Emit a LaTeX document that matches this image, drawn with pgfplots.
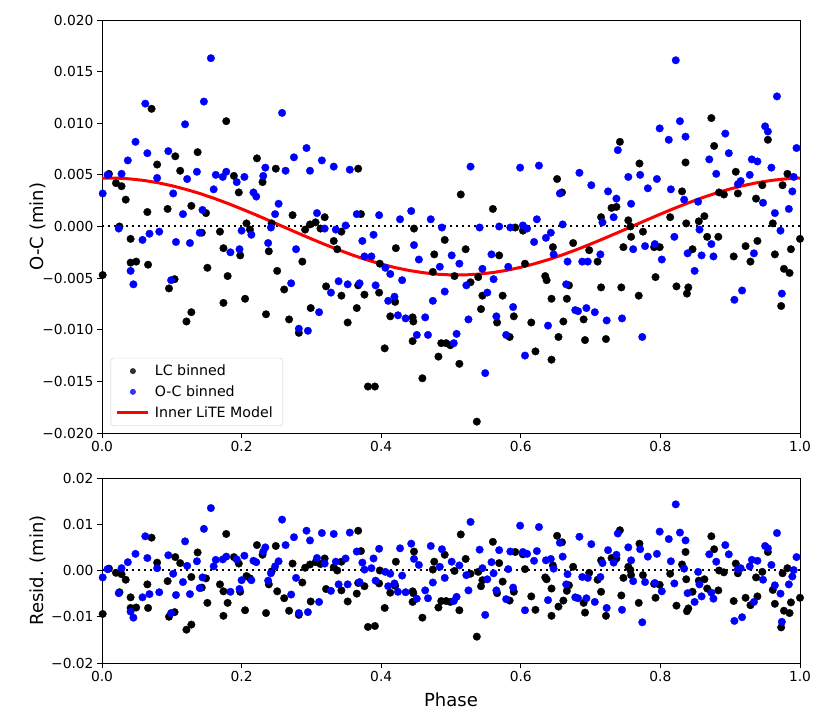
\documentclass[border=0pt]{standalone}
\usepackage{fontspec}
\setmainfont{DejaVu Sans}
\usepackage{pgfplots}
\usepackage{pgfplotstable}
\pgfplotsset{compat=1.18}

% columns: phase, O-C (min), residual after the model (min)
\pgfplotstableread{
x oc res
0.071 0.0114 0.0071
0.178 0.0102 0.0079
0.137 0.0072 0.0039
0.105 0.0068 0.0029
0.079 0.0060 0.0017
0.112 0.0054 0.0016
0.010 0.0051 0.0004
0.020 0.0042 -0.0005
0.028 0.0039 -0.0008
0.034 0.0026 -0.0020
0.065 0.0014 -0.0030
0.094 0.0017 -0.0023
0.128 0.0020 -0.0014
0.149 0.0013 -0.0017
0.189 0.0049 0.0029
0.196 0.0033 0.0015
0.222 0.0066 0.0055
0.230 0.0043 0.0034
0.249 0.0056 0.0053
0.207 0.0003 -0.0012
0.212 -0.0003 -0.0017
0.243 0.0003 -0.0002
0.025 0.0000 -0.0047
0.143 -0.0006 -0.0037
0.169 -0.0005 -0.0030
0.041 -0.0012 -0.0058
0.041 -0.0035 -0.0081
0.049 -0.0034 -0.0080
0.066 -0.0037 -0.0081
0.001 -0.0047 -0.0094
0.104 -0.0051 -0.0090
0.096 -0.0060 -0.0100
0.128 -0.0083 -0.0117
0.121 -0.0092 -0.0128
0.151 -0.0040 -0.0070
0.174 -0.0021 -0.0045
0.180 -0.0048 -0.0070
0.174 -0.0074 -0.0098
0.198 -0.0028 -0.0046
0.205 -0.0070 -0.0086
0.239 -0.0024 -0.0030
0.235 -0.0085 -0.0092
0.251 -0.0043 -0.0045
0.367 0.0056 0.0086
0.273 0.0011 0.0015
0.319 0.0009 0.0026
0.371 0.0012 0.0042
0.298 0.0002 0.0013
0.306 0.0004 0.0018
0.291 -0.0003 0.0006
0.313 -0.0002 0.0014
0.343 -0.0005 0.0019
0.447 -0.0002 0.0041
0.287 -0.0034 -0.0026
0.261 -0.0061 -0.0060
0.268 -0.0090 -0.0087
0.282 -0.0103 -0.0096
0.299 -0.0079 -0.0067
0.332 -0.0014 0.0007
0.337 -0.0022 0.0000
0.321 -0.0058 -0.0040
0.343 -0.0067 -0.0043
0.367 -0.0057 -0.0027
0.376 -0.0066 -0.0034
0.365 -0.0079 -0.0050
0.352 -0.0093 -0.0067
0.397 -0.0064 -0.0028
0.398 -0.0036 0.0000
0.405 -0.0118 -0.0081
0.381 -0.0155 -0.0122
0.391 -0.0155 -0.0120
0.421 -0.0021 0.0019
0.420 -0.0073 -0.0033
0.413 -0.0087 -0.0048
0.445 -0.0088 -0.0045
0.446 -0.0092 -0.0049
0.445 -0.0111 -0.0068
0.459 -0.0147 -0.0102
0.476 -0.0027 0.0019
0.474 -0.0044 0.0002
0.482 -0.0126 -0.0080
0.486 -0.0113 -0.0066
0.493 -0.0113 -0.0066
0.491 -0.0013 0.0034
0.514 0.0031 0.0078
0.560 0.0017 0.0062
0.652 0.0046 0.0075
0.659 0.0033 0.0061
0.742 0.0082 0.0087
0.730 0.0018 0.0027
0.737 0.0019 0.0026
0.715 0.0009 0.0022
0.592 -0.0001 0.0040
0.603 -0.0004 0.0035
0.521 -0.0022 0.0025
0.569 -0.0028 0.0016
0.646 -0.0020 0.0011
0.675 -0.0016 0.0008
0.698 -0.0023 -0.0005
0.710 -0.0034 -0.0020
0.606 -0.0036 0.0003
0.505 -0.0048 -0.0001
0.528 -0.0054 -0.0007
0.539 -0.0049 -0.0003
0.545 -0.0067 -0.0021
0.574 -0.0067 -0.0024
0.543 -0.0080 -0.0034
0.566 -0.0093 -0.0049
0.590 -0.0087 -0.0046
0.584 -0.0107 -0.0065
0.615 -0.0093 -0.0056
0.635 -0.0048 -0.0015
0.637 -0.0052 -0.0019
0.644 -0.0070 -0.0039
0.621 -0.0121 -0.0085
0.644 -0.0129 -0.0098
0.654 -0.0107 -0.0078
0.661 -0.0092 -0.0065
0.666 -0.0070 -0.0044
0.669 -0.0057 -0.0032
0.690 -0.0090 -0.0070
0.692 -0.0110 -0.0091
0.715 -0.0059 -0.0046
0.722 -0.0109 -0.0098
0.499 -0.0115 -0.0068
0.512 -0.0133 -0.0086
0.537 -0.0189 -0.0143
0.873 0.0105 0.0074
0.877 0.0078 0.0046
0.954 0.0084 0.0040
0.770 0.0061 0.0058
0.836 0.0062 0.0040
0.908 0.0053 0.0015
0.982 0.0051 0.0005
0.831 0.0034 0.0013
0.884 0.0033 0.0000
0.891 0.0031 -0.0004
0.911 0.0032 -0.0006
0.946 0.0040 -0.0003
0.975 0.0040 -0.0006
0.937 0.0027 -0.0015
0.754 0.0006 0.0008
0.757 0.0000 0.0001
0.814 0.0009 -0.0007
0.863 0.0010 -0.0019
0.855 0.0005 -0.0022
0.837 0.0003 -0.0019
0.961 0.0003 -0.0042
0.775 -0.0005 -0.0010
0.758 -0.0010 -0.0010
0.747 -0.0020 -0.0016
0.791 -0.0020 -0.0029
0.799 -0.0020 -0.0031
0.867 -0.0010 -0.0039
0.883 -0.0010 -0.0043
0.846 -0.0022 -0.0046
0.793 -0.0049 -0.0059
0.744 -0.0059 -0.0054
0.769 -0.0067 -0.0070
0.823 -0.0058 -0.0076
0.840 -0.0059 -0.0082
0.838 -0.0065 -0.0088
0.905 -0.0029 -0.0066
0.922 -0.0019 -0.0059
0.929 -0.0034 -0.0075
0.939 -0.0014 -0.0056
0.964 -0.0027 -0.0072
0.977 -0.0041 -0.0087
0.985 -0.0045 -0.0092
0.987 -0.0022 -0.0069
1.000 -0.0012 -0.0059
0.973 -0.0077 -0.0123
}\lcdata

\pgfplotstableread{
x oc res
0.156 0.0163 0.0135
0.062 0.0119 0.0074
0.146 0.0121 0.0090
0.119 0.0099 0.0063
0.048 0.0082 0.0036
0.065 0.0071 0.0027
0.037 0.0064 0.0018
0.095 0.0073 0.0033
0.008 0.0050 0.0003
0.028 0.0051 0.0005
0.001 0.0032 -0.0015
0.079 0.0047 0.0005
0.102 0.0032 -0.0007
0.122 0.0046 0.0010
0.136 0.0053 0.0020
0.116 0.0012 -0.0025
0.144 0.0016 -0.0015
0.163 0.0050 0.0023
0.173 0.0048 0.0024
0.178 0.0053 0.0030
0.160 0.0036 0.0009
0.193 0.0043 0.0024
0.204 0.0048 0.0032
0.217 0.0033 0.0021
0.221 0.0029 0.0018
0.231 0.0049 0.0041
0.234 0.0057 0.0050
0.248 0.0012 0.0009
0.253 0.0022 0.0020
0.242 -0.0001 -0.0006
0.024 -0.0002 -0.0049
0.068 -0.0007 -0.0051
0.082 -0.0005 -0.0047
0.140 -0.0006 -0.0038
0.200 -0.0004 -0.0021
0.041 -0.0043 -0.0089
0.045 -0.0056 -0.0102
0.058 -0.0013 -0.0058
0.106 -0.0015 -0.0053
0.126 -0.0016 -0.0051
0.099 -0.0052 -0.0092
0.184 -0.0025 -0.0046
0.197 -0.0022 -0.0040
0.214 -0.0008 -0.0021
0.238 -0.0016 -0.0022
0.258 0.0110 0.0110
0.293 0.0076 0.0086
0.275 0.0067 0.0072
0.315 0.0064 0.0081
0.332 0.0058 0.0079
0.298 0.0054 0.0065
0.263 0.0054 0.0055
0.355 0.0055 0.0082
0.308 0.0013 0.0027
0.365 0.0012 0.0041
0.397 0.0011 0.0047
0.443 0.0015 0.0058
0.427 0.0007 0.0048
0.471 0.0007 0.0053
0.487 -0.0001 0.0046
0.349 0.0001 0.0026
0.319 -0.0002 0.0015
0.335 -0.0003 0.0019
0.389 -0.0008 0.0026
0.278 -0.0022 -0.0016
0.271 -0.0055 -0.0052
0.282 -0.0099 -0.0092
0.295 -0.0101 -0.0090
0.311 -0.0083 -0.0068
0.328 -0.0064 -0.0044
0.339 -0.0053 -0.0030
0.352 -0.0056 -0.0030
0.369 -0.0055 -0.0025
0.392 -0.0057 -0.0022
0.373 -0.0014 0.0017
0.376 -0.0029 0.0002
0.386 -0.0029 0.0005
0.406 -0.0040 -0.0003
0.413 -0.0046 -0.0007
0.430 -0.0052 -0.0011
0.410 -0.0072 -0.0034
0.419 -0.0068 -0.0028
0.424 -0.0086 -0.0046
0.435 -0.0089 -0.0047
0.447 -0.0018 0.0025
0.454 -0.0032 0.0012
0.474 -0.0072 -0.0026
0.463 -0.0088 -0.0043
0.451 -0.0105 -0.0061
0.467 -0.0105 -0.0060
0.484 -0.0039 0.0008
0.491 -0.0063 -0.0016
0.528 0.0058 0.0105
0.599 0.0057 0.0097
0.626 0.0059 0.0094
0.684 0.0052 0.0073
0.701 0.0040 0.0057
0.725 0.0034 0.0044
0.656 0.0032 0.0060
0.737 0.0027 0.0034
0.739 0.0074 0.0080
0.733 0.0009 0.0017
0.717 0.0004 0.0016
0.623 0.0007 0.0042
0.660 0.0002 0.0030
0.541 -0.0001 0.0045
0.569 0.0000 0.0044
0.585 -0.0001 0.0041
0.603 0.0001 0.0040
0.609 -0.0002 0.0036
0.643 -0.0006 0.0025
0.636 -0.0011 0.0022
0.619 -0.0015 0.0021
0.647 -0.0027 0.0004
0.667 -0.0034 -0.0008
0.688 -0.0034 -0.0014
0.696 -0.0034 -0.0016
0.714 -0.0027 -0.0014
0.501 -0.0028 0.0019
0.512 -0.0036 0.0011
0.558 -0.0027 0.0018
0.582 -0.0039 0.0003
0.545 -0.0041 0.0005
0.561 -0.0051 -0.0006
0.522 -0.0057 -0.0010
0.552 -0.0064 -0.0019
0.589 -0.0078 -0.0037
0.565 -0.0087 -0.0043
0.525 -0.0090 -0.0043
0.579 -0.0105 -0.0062
0.508 -0.0104 -0.0057
0.504 -0.0113 -0.0066
0.549 -0.0142 -0.0096
0.606 -0.0125 -0.0086
0.639 -0.0096 -0.0064
0.665 -0.0056 -0.0030
0.678 -0.0081 -0.0058
0.682 -0.0082 -0.0060
0.694 -0.0079 -0.0060
0.706 -0.0083 -0.0068
0.723 -0.0091 -0.0081
0.822 0.0161 0.0143
0.967 0.0126 0.0081
0.828 0.0102 0.0082
0.799 0.0095 0.0084
0.812 0.0084 0.0068
0.836 0.0087 0.0065
0.893 0.0090 0.0055
0.950 0.0097 0.0053
0.954 0.0092 0.0048
0.995 0.0076 0.0029
0.898 0.0071 0.0035
0.870 0.0065 0.0035
0.931 0.0065 0.0023
0.939 0.0063 0.0021
0.959 0.0057 0.0012
0.754 0.0048 0.0050
0.771 0.0050 0.0046
0.795 0.0046 0.0036
0.782 0.0037 0.0030
0.815 0.0036 0.0020
0.880 0.0051 0.0019
0.928 0.0050 0.0009
0.911 0.0041 0.0003
0.915 0.0044 0.0005
0.991 0.0048 0.0001
0.989 0.0034 -0.0013
0.758 0.0022 0.0022
0.834 0.0026 0.0004
0.854 0.0024 -0.0003
0.947 0.0023 -0.0020
0.984 0.0017 -0.0030
0.964 0.0013 -0.0032
0.972 -0.0004 -0.0050
0.856 -0.0003 -0.0030
0.820 -0.0010 -0.0028
0.761 -0.0022 -0.0023
0.778 -0.0019 -0.0025
0.792 -0.0017 -0.0027
0.802 -0.0032 -0.0045
0.839 -0.0026 -0.0049
0.859 -0.0028 -0.0056
0.873 -0.0017 -0.0048
0.876 -0.0029 -0.0061
0.849 -0.0043 -0.0068
0.934 -0.0026 -0.0068
0.917 -0.0062 -0.0101
0.906 -0.0071 -0.0109
0.974 -0.0065 -0.0111
0.745 -0.0089 -0.0085
0.774 -0.0107 -0.0112
}\ocdata

\pgfplotstableread{
x m
0.00 0.00469
0.02 0.00469
0.04 0.00461
0.06 0.00446
0.08 0.00424
0.10 0.00395
0.12 0.00360
0.14 0.00320
0.16 0.00274
0.18 0.00224
0.20 0.00170
0.22 0.00114
0.24 0.00056
0.26 -0.00003
0.28 -0.00062
0.30 -0.00120
0.32 -0.00176
0.34 -0.00229
0.36 -0.00279
0.38 -0.00324
0.40 -0.00364
0.42 -0.00398
0.44 -0.00426
0.46 -0.00447
0.48 -0.00462
0.50 -0.00469
0.52 -0.00469
0.54 -0.00461
0.56 -0.00446
0.58 -0.00424
0.60 -0.00395
0.62 -0.00360
0.64 -0.00320
0.66 -0.00274
0.68 -0.00224
0.70 -0.00170
0.72 -0.00114
0.74 -0.00056
0.76 0.00003
0.78 0.00062
0.80 0.00120
0.82 0.00176
0.84 0.00229
0.86 0.00279
0.88 0.00324
0.90 0.00364
0.92 0.00398
0.94 0.00426
0.96 0.00447
0.98 0.00462
1.00 0.00469
}\model

\pgfplotsset{
  panel/.style={
    scale only axis, width=698bp,
    xmin=0, xmax=1,
    xtick={0,0.2,0.4,0.6,0.8,1},
    xticklabels={0.0,0.2,0.4,0.6,0.8,1.0},
    scaled y ticks=false,
    tick align=outside, major tick length=5bp,
    xtick pos=left, ytick pos=left,
    every tick/.style={black, line width=0.9bp},
    axis line style={line width=0.9bp},
    tick label style={font=\fontsize{13.8bp}{16bp}\selectfont},
    label style={font=\fontsize{18bp}{21bp}\selectfont},
    ylabel style={at={(axis description cs:-0.0917,0.5)}, anchor=center},
    legend image code/.code={\draw[mark repeat=2,mark phase=2,#1]
      plot coordinates {(0bp,0bp)(15.5bp,0bp)(31bp,0bp)};},
  },
  dots/.style={only marks, mark=*, mark size=3.8bp, color=#1, mark options={line width=0.3bp}},
  zeroline/.style={black, line width=2bp, dash pattern=on 2bp off 4bp, forget plot},
}

\begin{document}
\begin{tikzpicture}
\path[use as bounding box] (0bp,0bp) rectangle (830bp,727bp);

\begin{axis}[panel,
    at={(102bp,294bp)}, anchor=south west, height=413bp,
    ymin=-0.02, ymax=0.02,
    ytick={-0.02,-0.015,-0.01,-0.005,0,0.005,0.01,0.015,0.02},
    yticklabels={−0.020,−0.015,−0.010,−0.005,0.000,0.005,0.010,0.015,0.020},
    ylabel={O-C (min)},
    legend cell align=left,
    legend image post style={mark size=2.7bp},
    legend style={at={(0.0125,0.017)}, anchor=south west,
      draw=black!20, rounded corners=3bp, fill=white, fill opacity=0.8, text opacity=1,
      font=\fontsize{14.2bp}{16bp}\selectfont, inner xsep=5bp, inner ysep=5bp, row sep=4.5bp,
      nodes={inner xsep=5bp}},
  ]
  \addplot[zeroline] coordinates {(0,0) (1,0)};
  \addplot[dots=black] table[x=x, y=oc] {\lcdata};
  \addlegendentry{LC binned}
  \addplot[dots=blue] table[x=x, y=oc] {\ocdata};
  \addlegendentry{O-C binned}
  \addplot[red, line width=3bp] table[x=x, y=m] {\model};
  \addlegendentry{Inner LiTE Model}
\end{axis}

\begin{axis}[panel,
    at={(102bp,64bp)}, anchor=south west, height=185bp,
    ymin=-0.02, ymax=0.02,
    ytick={-0.02,-0.01,0,0.01,0.02},
    yticklabels={−0.02,−0.01,0.00,0.01,0.02},
    ylabel={Resid. (min)},
    xlabel={Phase},
    xlabel style={at={(axis description cs:0.5,-0.2)}, anchor=center},
  ]
  \addplot[zeroline] coordinates {(0,0) (1,0)};
  \addplot[dots=black] table[x=x, y=res] {\lcdata};
  \addplot[dots=blue] table[x=x, y=res] {\ocdata};
\end{axis}
\end{tikzpicture}
\end{document}
